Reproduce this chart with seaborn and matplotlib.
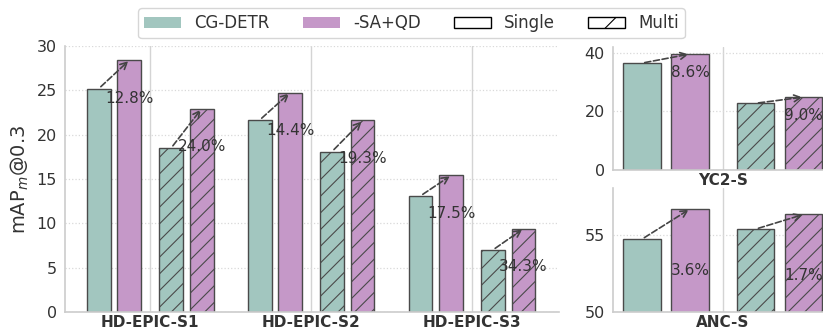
import numpy as np
import pandas as pd
import matplotlib
matplotlib.use("Agg")
import matplotlib.pyplot as plt
from matplotlib.patches import Patch
import seaborn as sns

# ---- data ----
HD_CATS = ["HD-EPIC-S1", "HD-EPIC-S2", "HD-EPIC-S3"]
HD_CG_SINGLE = [25.2, 21.65, 13.1]
HD_SA_SINGLE = [28.4, 24.75, 15.4]
HD_CG_MULTI = [18.5, 18.1, 7.0]
HD_SA_MULTI = [22.95, 21.6, 9.4]
HD_GAIN_SINGLE = ["12.8%", "14.4%", "17.5%"]
HD_GAIN_MULTI = ["24.0%", "19.3%", "34.3%"]

YC2_CATS = ["YC2-S"]
YC2_CG_SINGLE = [36.5]
YC2_SA_SINGLE = [39.6]
YC2_CG_MULTI = [22.8]
YC2_SA_MULTI = [24.9]
YC2_GAIN_SINGLE = ["8.6%"]
YC2_GAIN_MULTI = ["9.0%"]

ANC_CATS = ["ANC-S"]
ANC_CG_SINGLE = [54.7]
ANC_SA_SINGLE = [56.65]
ANC_CG_MULTI = [55.35]
ANC_SA_MULTI = [56.3]
ANC_GAIN_SINGLE = ["3.6%"]
ANC_GAIN_MULTI = ["1.7%"]

METHODS = ["CG-DETR", "-SA+QD"]
SETTINGS = ["Single", "Multi"]

# ---- style ----
TEAL = "#a2c6bf"
PURPLE = "#c598c8"
EDGE = "#4a4a4a"
TXT = "#333333"
OFFSETS = [-0.32, -0.13, 0.13, 0.32]   # bar centres around each tick
BW = 0.148

sns.set_theme(style="whitegrid")
plt.rcParams["font.family"] = ["DejaVu Sans"]
plt.rcParams["hatch.linewidth"] = 0.8
plt.rcParams["hatch.color"] = EDGE


def long_table(cats, cg_s, sa_s, cg_m, sa_m):
    rows = []
    for i, c in enumerate(cats):
        rows.append((c, "CG-DETR Single", cg_s[i]))
        rows.append((c, "-SA+QD Single", sa_s[i]))
        rows.append((c, "CG-DETR Multi", cg_m[i]))
        rows.append((c, "-SA+QD Multi", sa_m[i]))
    return pd.DataFrame(rows, columns=["dataset", "combo", "value"])


HUE_ORDER = ["CG-DETR Single", "-SA+QD Single", "CG-DETR Multi", "-SA+QD Multi"]
PALETTE = [TEAL, PURPLE, TEAL, PURPLE]


def draw_panel(ax, cats, cg_s, sa_s, cg_m, sa_m, gain_s, gain_m, ylim, yticks, xlim, drop):
    df = long_table(cats, cg_s, sa_s, cg_m, sa_m)
    sns.barplot(data=df, x="dataset", y="value", hue="combo", hue_order=HUE_ORDER,
                palette=PALETTE, errorbar=None, legend=False, ax=ax,
                edgecolor=EDGE, linewidth=1.0, saturation=1)
    for k, cont in enumerate(ax.containers):
        for j, p in enumerate(cont.patches):
            p.set_x(j + OFFSETS[k] - BW / 2)
            p.set_width(BW)
            if k >= 2:
                p.set_hatch("//")
    # arrows + gain labels
    for j in range(len(cats)):
        for (lo, hi, gain, ka, kb) in [(cg_s[j], sa_s[j], gain_s[j], 0, 1),
                                       (cg_m[j], sa_m[j], gain_m[j], 2, 3)]:
            ax.annotate("", xy=(j + OFFSETS[kb], hi), xytext=(j + OFFSETS[ka], lo),
                        arrowprops=dict(arrowstyle="->", ls="--", color="#444444",
                                        lw=1.2, shrinkA=2, shrinkB=1), zorder=5)
            ax.text(j + OFFSETS[kb], hi - drop, gain, ha="center", va="center",
                    fontsize=11, color=TXT, zorder=6)
    ax.set_ylim(*ylim)
    ax.set_yticks(yticks)
    ax.set_xlim(*xlim)
    ax.set_xlabel("")
    ax.set_ylabel("")
    ax.grid(axis="y", linestyle=":", color="#d9d9d9", linewidth=0.9)
    ax.grid(axis="x", linestyle="-", color="#d4d4d4", linewidth=1.0)
    ax.set_axisbelow(True)
    for s in ["top", "right"]:
        ax.spines[s].set_visible(False)
    for s in ["left", "bottom"]:
        ax.spines[s].set_color("#cccccc")
        ax.spines[s].set_linewidth(1.2)
    ax.tick_params(axis="y", labelsize=11.5, colors=TXT, length=0, pad=6)
    ax.tick_params(axis="x", labelsize=11, colors=TXT, length=0, pad=2)
    for t in ax.get_xticklabels():
        t.set_fontweight("bold")


fig = plt.figure(figsize=(8.23, 3.31), dpi=100)
ax_hd = fig.add_axes([0.079, 0.0574, 0.600, 0.8036])
ax_yc = fig.add_axes([0.745, 0.4864, 0.255, 0.3716])
ax_anc = fig.add_axes([0.745, 0.0574, 0.255, 0.3746])

draw_panel(ax_hd, HD_CATS, HD_CG_SINGLE, HD_SA_SINGLE, HD_CG_MULTI, HD_SA_MULTI,
           HD_GAIN_SINGLE, HD_GAIN_MULTI, (0, 30), [0, 5, 10, 15, 20, 25, 30],
           (-0.53, 2.54), 4.3)
draw_panel(ax_yc, YC2_CATS, YC2_CG_SINGLE, YC2_SA_SINGLE, YC2_CG_MULTI, YC2_SA_MULTI,
           YC2_GAIN_SINGLE, YC2_GAIN_MULTI, (0, 42), [0, 20, 40],
           (-0.434, 0.396), 6.2)
draw_panel(ax_anc, ANC_CATS, ANC_CG_SINGLE, ANC_SA_SINGLE, ANC_CG_MULTI, ANC_SA_MULTI,
           ANC_GAIN_SINGLE, ANC_GAIN_MULTI, (50, 58), [50, 55],
           (-0.434, 0.396), 3.95)

ax_hd.set_ylabel("mAP$_m$@0.3", fontsize=14, color=TXT, labelpad=4)

handles = [
    Patch(facecolor=TEAL, edgecolor="none", label=METHODS[0]),
    Patch(facecolor=PURPLE, edgecolor="none", label=METHODS[1]),
    Patch(facecolor="white", edgecolor="black", label=SETTINGS[0]),
    Patch(facecolor="white", edgecolor="black", hatch="/", label=SETTINGS[1]),
]
fig.legend(handles=handles, loc="upper center", bbox_to_anchor=(0.5, 1.0), ncol=4,
           fontsize=12, frameon=True, handlelength=2.2, columnspacing=2.0,
           borderpad=0.35, labelcolor=TXT)

fig.savefig("out.png", dpi=100)
